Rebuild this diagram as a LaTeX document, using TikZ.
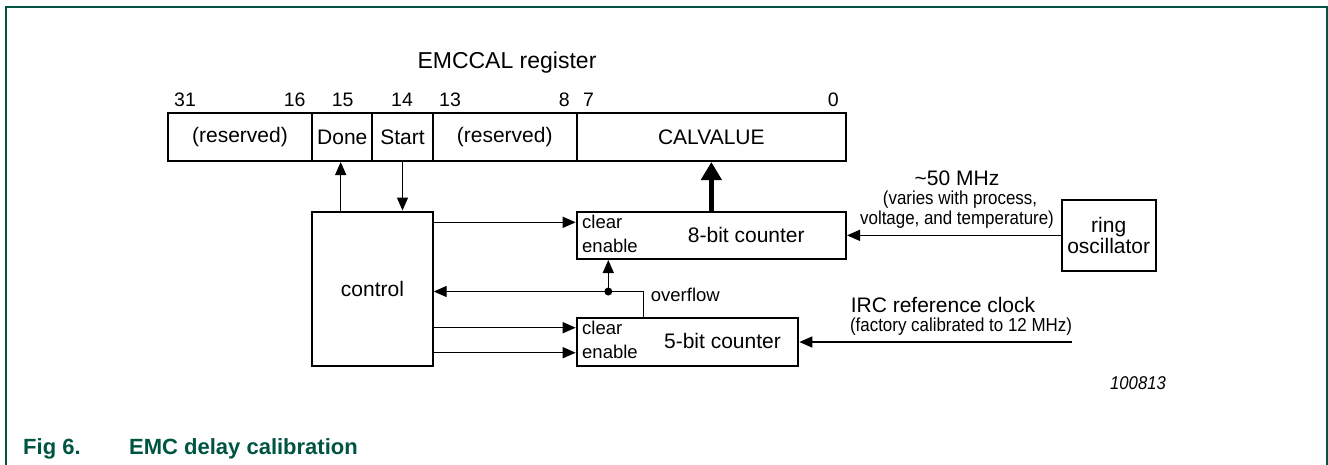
\documentclass[tikz,border=0pt]{standalone}
\usepackage{fontspec}
\setmainfont{Liberation Sans}
\newfontfamily\narrowfont[FakeStretch=0.9]{Liberation Sans}
\usetikzlibrary{arrows.meta}
\definecolor{nxpgreen}{RGB}{0,84,66}
\begin{document}
\begin{tikzpicture}[x=1pt,y=-1pt,
  font=\fontsize{21}{21}\selectfont,
  blk/.style={draw,line width=2pt,inner sep=0pt,align=center},
  sm/.style={font=\fontsize{18.5}{18.5}\selectfont,inner sep=0pt},
  note/.style={font=\narrowfont\fontsize{18.8}{18.8}\selectfont,inner sep=0pt},
  bitnum/.style={font=\fontsize{19.5}{19.5}\selectfont,inner sep=0pt},
  txt/.style={inner sep=0pt},
  arr/.style={line width=1.4pt,-{Triangle[length=13pt,width=11pt]}},
  ]
\useasboundingbox (0,0) rectangle (1328,464);
% frame
\draw[nxpgreen,line width=1.7pt] (6,470) -- (6,7.3) -- (1327.3,7.3) -- (1327.3,470);

% register
\node[txt,font=\fontsize{23}{23}\selectfont] (title) at (507,63) {EMCCAL register};
\node[blk,minimum width=144.6pt,minimum height=47.7pt] (r1) at (240,137.15) {(reserved)};
\node[blk,minimum width=60pt,minimum height=47.7pt] (done) at (342.3,137.15) {Done};
\node[blk,minimum width=60.4pt,minimum height=47.7pt] (start) at (402.5,137.15) {Start};
\node[blk,minimum width=144pt,minimum height=47.7pt] (r2) at (504.7,137.15) {(reserved)};
\node[blk,minimum width=269.3pt,minimum height=47.7pt] (calv) at (711.35,137.15) {CALVALUE};

\node[bitnum,anchor=west] (n31) at (174,100) {31};
\node[bitnum,anchor=east] (n16) at (305.7,100) {16};
\node[bitnum] (n15) at (342.7,100) {15};
\node[bitnum] (n14) at (402,100) {14};
\node[bitnum,anchor=west] (n13) at (439,100) {13};
\node[bitnum,anchor=east] (n8) at (570,100) {8};
\node[bitnum,anchor=west] (n7) at (583,100) {7};
\node[bitnum,anchor=east] (n0) at (839,100) {0};

% blocks
\node[blk,minimum width=120.4pt,minimum height=154.2pt] (ctrl) at (372.5,288.6) {control};
\node[blk,minimum width=269.3pt,minimum height=47.3pt] (b8) at (711.35,235.35) {};
\node[blk,minimum width=221.6pt,minimum height=47.4pt] (b5) at (687.5,342) {};
\node[blk,minimum width=94pt,minimum height=70.7pt,font=\fontsize{21}{21}\selectfont] (ring) at (1108.7,235.35) {ring\\oscillator};

\node[txt] (b8lbl) at (746.3,235) {8-bit counter};
\node[sm,anchor=west] (b8clr) at (582,221.7) {clear};
\node[sm,anchor=west] (b8en) at (582,246) {enable};
\node[txt] (b5lbl) at (722.5,340.7) {5-bit counter};
\node[sm,anchor=west] (b5clr) at (582,327.7) {clear};
\node[sm,anchor=west] (b5en) at (582,351.7) {enable};

% connectors
\coordinate (dn) at (340.7,0);
\draw[arr] (ctrl.north -| dn) -- (done.south -| dn);
\draw[arr] (start.south) -- (ctrl.north -| start.south);
\draw[line width=4.5pt,-{Triangle[length=18pt,width=20pt]}] (b8.north) -- (calv.south);

\coordinate (y1) at (0,222.3);
\coordinate (y2) at (0,327.7);
\coordinate (y3) at (0,352.7);
\draw[arr] (ctrl.east |- y1) -- (b8.west |- y1);
\draw[arr] (ctrl.east |- y2) -- (b5.west |- y2);
\draw[arr] (ctrl.east |- y3) -- (b5.west |- y3);

\coordinate (ovx) at (643.3,0);
\coordinate (dot) at (608.3,291.5);
\draw[line width=1.4pt] (b5.north -| ovx) |- (dot);
\draw[arr] (dot) -- (ctrl.east |- dot);
\draw[arr] (dot) -- (b8.south -| dot);
\fill (dot) circle (4pt);
\node[sm,anchor=west] (ovf) at (650.7,295) {overflow};

\draw[arr] (ring.west) -- (b8.east);
\coordinate (irc) at (1072,342);
\draw[arr] (irc) -- (b5.east);

% notes
\node[txt] (f50) at (957,178.3) {\textasciitilde50 MHz};
\node[note] (var1) at (960,199.3) {(varies with process,};
\node[note] (var2) at (957,220) {voltage, and temperature)};
\node[txt] (ircl) at (943,305) {IRC reference clock};
\node[note] (fact) at (961,326.7) {(factory calibrated to 12 MHz)};

\node[txt,font=\narrowfont\itshape\fontsize{18.5}{18.5}\selectfont] (code) at (1138,383) {100813};

% caption
\node[txt,anchor=base west,font=\bfseries\fontsize{22}{22}\selectfont,text=nxpgreen] (fig) at (23,454.5) {Fig 6.};
\node[txt,anchor=base west,font=\bfseries\fontsize{22}{22}\selectfont,text=nxpgreen] (cap) at (129,454.5) {EMC delay calibration};
\end{tikzpicture}
\end{document}
